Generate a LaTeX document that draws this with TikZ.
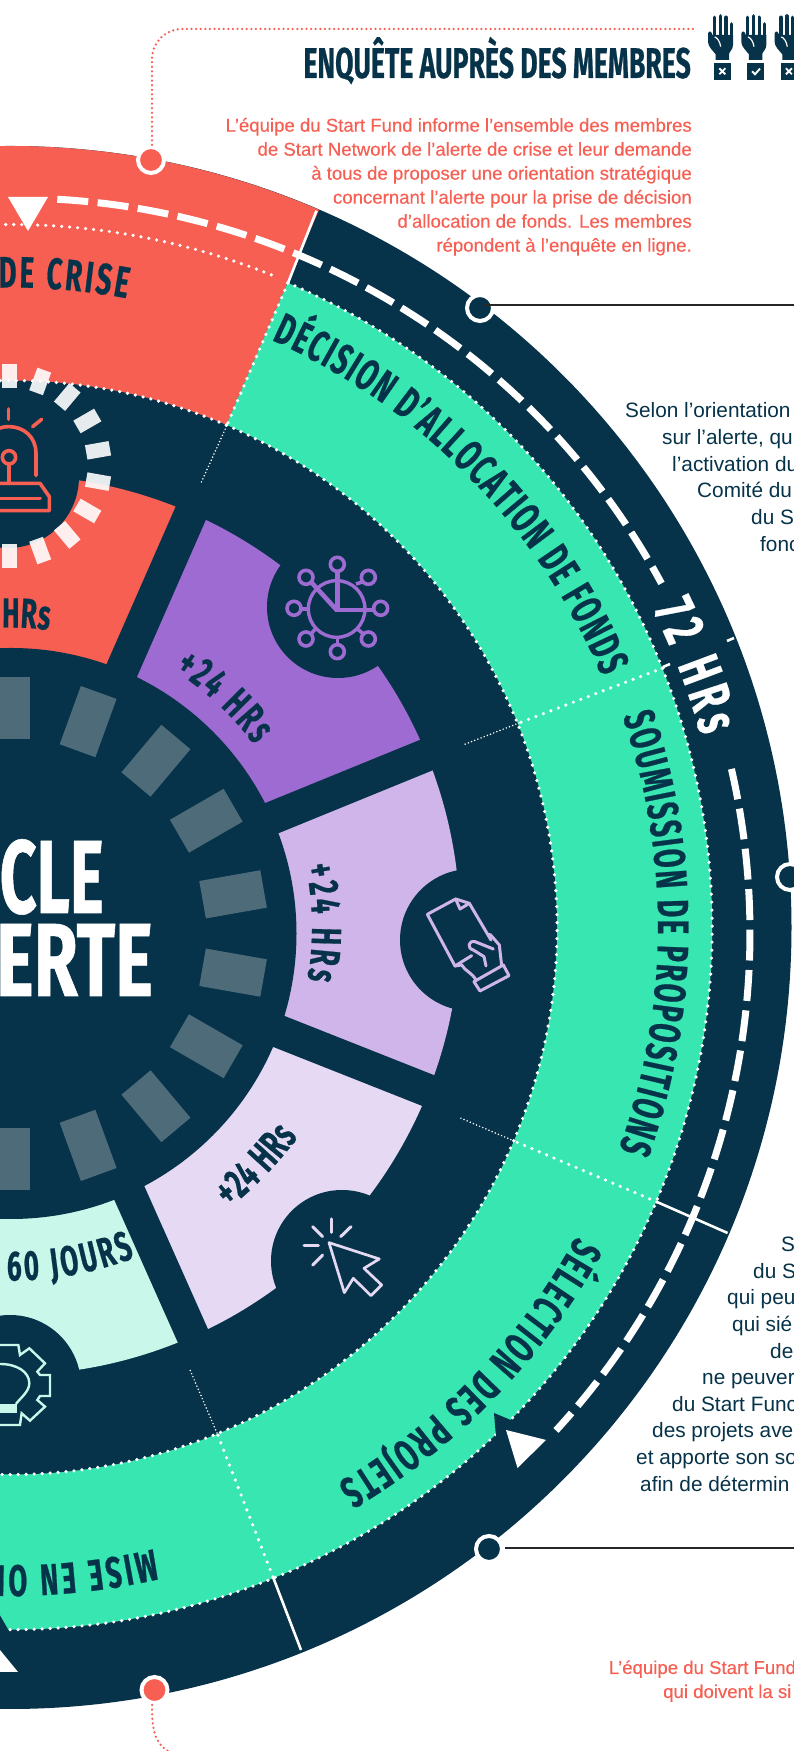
\documentclass[tikz,border=0pt]{standalone}
\usepackage{fontspec}
\usetikzlibrary{decorations.text}
\setmainfont{Liberation Sans}
\newfontfamily\hf[FakeStretch=0.62,FakeBold=0.5]{Fira Sans}
\newfontfamily\cf[FakeBold=0.25]{Liberation Sans}
\definecolor{navy}{HTML}{063349}
\definecolor{coral}{HTML}{F75F53}
\definecolor{green}{HTML}{37E6B0}
\definecolor{purple}{HTML}{9D6BD1}
\definecolor{lav}{HTML}{CFB5EA}
\definecolor{pale}{HTML}{E6D9F4}
\definecolor{mint}{HTML}{C9F7E9}
\definecolor{slate}{HTML}{4D6B79}
\newcommand\secfill[5]{\fill[#1] (#2:#5pt) arc[start angle=#2,end angle=#3,radius=#5pt] -- (#3:#4pt) arc[start angle=#3,end angle=#2,radius=#4pt] -- cycle;}
\newcommand\arctext[5]{\path[decorate,decoration={text along path,text={|#1|#5},text align={fit to path}}] (#3:#2pt) arc[start angle=#3,end angle=#4,radius=#2pt];}
\newcommand\hA{\hf\bfseries\fontsize{44}{44}\selectfont\color{navy}}
\newcommand\hB{\hf\bfseries\fontsize{42}{42}\selectfont\color{navy}}
\newcommand\hC{\hf\bfseries\fontsize{58}{58}\selectfont\color{white}}
\newcommand\handicon[3]{%
\begin{scope}[shift={(#1,5)},scale=0.3333]
\fill[navy] (55,90)--(117,90)--(117,120) .. controls (117,135) and (105,140) .. (105,148)--(105,165)--(65,165)--(65,148) .. controls (55,135) and (42,125) .. (42,110)--(42,85) .. controls (46,74) and (55,80) .. (56,95)--cycle;
\foreach \fx/\fy in {61/37,79/33,96/37,112/57}{\draw[navy,line width=3.6pt,line cap=round] (\fx,100)--(\fx,\fy);}
\draw[white,line width=1.2pt] (62,96) .. controls (70,98) and (78,110) .. (80,125);
\fill[navy] (60,175) rectangle (110,225);
#3
\end{scope}}
\begin{document}
\begin{tikzpicture}[
 dotw/.style={white,line width=3.6pt,line cap=round,dash pattern=on 0pt off 8pt},
 dots/.style={white,line width=1.7pt,line cap=round,dash pattern=on 0pt off 3.4pt},
 dotc/.style={coral,line width=2.5pt,line cap=round,dash pattern=on 0pt off 4.6pt},
 dashw/.style={white,line width=7pt,dash pattern=on 31pt off 9.5pt},
 ringn/.style={circle,draw=white,line width=4pt,minimum size=26pt,inner sep=0pt},
 body/.style={inner sep=0pt,text=navy,font=\fontsize{20.8}{20.8}\selectfont,anchor=base west},
 cbody/.style={inner sep=0pt,text=coral,font=\cf\fontsize{18.6}{18.6}\selectfont},
 ic/.style={line width=3pt,line cap=round,line join=round},
]
\path[use as bounding box] (0,0) rectangle (794pt,1751pt);
\clip (0,0) rectangle (794pt,1751pt);
\fill[white] (0,0) rectangle (794pt,1751pt);
% --- rings, centre (10,927.5)
\begin{scope}[shift={(10pt,823.5pt)}]
\fill[navy] (0,0) circle[radius=781.5pt];
\secfill{coral}{66.7}{130}{500}{781.5}
\secfill{green}{66.7}{-110}{500}{702}
\fill[navy] (0,0) circle[radius=547pt];
\end{scope}
% --- wedges, centre (10,925)
\begin{scope}[shift={(10pt,826pt)}]
\secfill{coral}{66.3}{130}{200}{450}
\secfill{purple}{66.3}{22.2}{200}{450}
\secfill{lav}{22.2}{-21.6}{200}{450}
\secfill{pale}{-21.6}{-66}{200}{450}
\secfill{mint}{-66}{-130}{200}{450}
\foreach \a in {66.3,22.2,-21.6,-66}{\draw[navy,line width=33pt] (\a:200pt)--(\a:470pt);}
\end{scope}
% --- hub, centre (11,933.5)
\begin{scope}[shift={(11pt,817.5pt)}]
\fill[navy] (0,0) circle[radius=285.5pt];
\foreach \a in {90,70,50,30,10,-10,-30,-50,-70,-90}{\fill[slate,rotate=\a] (194.5pt,-19pt) rectangle (256.5pt,19pt);}
\end{scope}
% --- pixel scope
\begin{scope}[x=1pt,y=-1pt,yshift=1751pt]
\fill[navy] (8,477) circle[radius=71pt];
\fill[navy] (338,607) circle[radius=71pt];
\fill[navy] (471,940) circle[radius=71pt];
\fill[navy] (342,1261) circle[radius=71pt];
\fill[navy] (10,1386) circle[radius=71pt];
\end{scope}
% --- dotted rings
\begin{scope}[shift={(10pt,823.5pt)}]
\draw[dotw] (66.7:547pt) arc[start angle=66.7,end angle=-110,radius=547pt];
\draw[dotw] (66.7:702pt) arc[start angle=66.7,end angle=-110,radius=702pt];
\draw[dotw] (91:703pt) arc[start angle=91,end angle=68,radius=703pt];
\draw[dotw] (66.7:547pt) arc[start angle=66.7,end angle=100,radius=547pt];
\end{scope}
\begin{scope}[x=1pt,y=-1pt,yshift=1751pt]
\coordinate (sp1a) at (288,283); \coordinate (sp1b) at (228,423); \coordinate (sp1c) at (201,483);
\coordinate (sp2a) at (663,668); \coordinate (sp2b) at (519,723); \coordinate (sp2c) at (463,745);
\coordinate (sp3a) at (657,1202); \coordinate (sp3b) at (514,1141); \coordinate (sp3c) at (458,1117);
\coordinate (sp4a) at (273,1577); \coordinate (sp4b) at (217,1433); \coordinate (sp4c) at (190,1370);
\foreach \n in {1,2,3,4}{
 \draw[dotw] (sp\n a)--(sp\n b);
 \draw[dots] (sp\n b)--(sp\n c);
}
\draw[white,line width=2.6pt] (288,283)--(316.5,210.7);
\draw[white,line width=2.6pt] (657,1202)--(727.6,1233);
\draw[white,line width=2.6pt] (273,1577)--(301,1650);
\draw[white,line width=2.6pt] (663,667)--(670,664);
\draw[white,line width=2.6pt] (727,641)--(734,638);
\end{scope}
% --- dashed road, centre (15,933)
\begin{scope}[shift={(15pt,818pt)}]
\draw[dashw] (86.7:735pt) arc[start angle=86.7,end angle=28.4,radius=735pt];
\draw[dashw] (12.9:735pt) arc[start angle=12.9,end angle=-42.6,radius=735pt];
\end{scope}
\begin{scope}[x=1pt,y=-1pt,yshift=1751pt]
\fill[navy] (494,1413)--(530,1428)--(505,1452)--(496,1437)--cycle;
\fill[navy] (-2,1612)--(9,1631)--(-2,1640)--cycle;
\fill[white] (8,197)--(48,197)--(28,231)--cycle;
\fill[white] (506,1430)--(546,1440)--(517.5,1468)--cycle;
\fill[white] (0,1650)--(18,1672)--(0,1672)--cycle;
% beacon squares
\begin{scope}[shift={(9.4,466)}]
\foreach \a in {90,70,50,30,10,-10,-30,-50,-70,-90}{\fill[white,opacity=.9,rotate=-\a] (78,-7.3) rectangle (102,7.3);}
\end{scope}
% beacon icon
\begin{scope}[shift={(0,360)},scale=0.3333]
\draw[coral,ic,line width=3.6pt] (108,347)--(108,280) .. controls (108,230) and (70,200) .. (27,200) .. controls (-20,200) and (-54,230) .. (-54,280);
\draw[coral,ic,line width=3.6pt] (27,292) circle[radius=20];
\draw[coral,ic,line width=3.6pt] (27,318)--(27,370);
\draw[coral,ic,line width=3.6pt] (-30,370)--(120,370)--(148,410)--(148,452)--(-30,452);
\draw[coral,ic,line width=3.6pt] (-30,415)--(120,415);
\draw[coral,ic,line width=3.6pt] (26,147)--(26,178);
\draw[coral,ic,line width=3.6pt] (98,200)--(125,178);
\end{scope}
% network clock
\begin{scope}[shift={(270,540)},scale=0.3333]
\draw[purple,line width=3.4pt] (200,207) circle[radius=85];
\foreach \nx/\ny in {202/73,72/205,108/112,295/112,332/205,295/297,202/335,108/297}{
 \draw[purple,line width=3.6pt] (\nx,\ny) circle[radius=21];
}
\draw[purple,line width=3.6pt] (202,95)--(202,120);
\draw[purple,line width=3.6pt] (95,207)--(115,207);
\draw[purple,line width=3.6pt] (258,132)--(280,125);
\draw[purple,line width=3.6pt] (125,280)--(140,262);
\draw[purple,line width=3.6pt] (260,265)--(278,280);
\draw[purple,line width=3.6pt] (202,292)--(202,313);
\draw[purple,line width=4.6pt,line join=miter] (202,95)--(202,210)--(310,210);
\draw[purple,line width=4.6pt] (125,128)--(200,210);
\end{scope}
% hand with paper
\begin{scope}[shift={(410,885)},scale=0.3333,lav,ic]
\draw (185,212)--(135,243)--(52,88)--(137,42)--(178,55)--(243,165);
\draw (137,42)--(150,72)--(178,55);
\draw (250,192)--(195,170) .. controls (175,165) and (170,190) .. (190,195)--(222,215)--(228,243);
\draw (240,148)--(268,180)--(275,242);
\draw (135,243)--(155,240) .. controls (165,258) and (185,262) .. (198,285);
\draw (192,290)--(280,240)--(297,272)--(210,318)--cycle;
\end{scope}
% cursor
\begin{scope}[shift={(290,1205)},scale=0.3333,pale,ic]
\draw[line width=2.7pt] (117,113)--(268,162)--(222,190)--(275,240)--(243,272)--(190,220)--(163,263)--cycle;
\draw (125,42)--(125,82);
\draw (68,65)--(98,95);
\draw (183,65)--(152,95);
\draw (42,122)--(85,122);
\draw (68,180)--(98,150);
\end{scope}
% gear and bulb
\begin{scope}[shift={(0,1300)},scale=0.3333,mint,line width=2.4pt]
\draw (-30,135)--(55,135)--(60,165)--(88,145)--(135,190)--(112,215)--(120,225)--(150,225)--(150,288)--(120,288)--(112,300)--(135,320)--(90,362)--(65,340)--(60,375)--(-30,375);
\draw (-20,194)--(0,192) .. controls (50,192) and (88,215) .. (88,250) .. controls (88,275) and (60,295) .. (48,312);
\fill (-5,312) rectangle (50,340);
\end{scope}
% call-out nodes and connectors
\node[ringn,fill=coral] (c1) at (151,160) {};
\node[ringn,fill=navy] (c2) at (480,308) {};
\node[ringn,fill=navy] (c3) at (790,877) {};
\node[ringn,fill=navy] (c4) at (489,1549) {};
\node[ringn,fill=coral] (c5) at (154.5,1690) {};
\coordinate (t1) at (694,29);
\coordinate (t5) at (168,1751);
\coordinate (l2a) at (484,305); \coordinate (l2b) at (794,305);
\coordinate (l4a) at (505,1548); \coordinate (l4b) at (794,1548);
\draw[dotc,rounded corners=30pt] (c1.north -| 152,0)--(152,29)--(t1);
\draw[dotc] (152,1705) .. controls (152,1725) and (153,1742) .. (t5);
\draw[black!85,line width=1.4pt] (l2a)--(l2b);
\draw[black!85,line width=1.4pt] (l4a)--(l4b);
% hands
\handicon{694}{1}{\draw[white,line width=1.9pt] (76,190)--(94,208) (94,190)--(76,208);}
\handicon{727.3}{2}{\draw[white,line width=1.9pt] (74,199)--(83,208)--(98,191);}
\handicon{760.6}{3}{\draw[white,line width=1.9pt] (76,190)--(94,208) (94,190)--(76,208);}
% texts
\node[anchor=base east,inner sep=0pt,text=navy] (title) at (691,78) {\hf\bfseries\fontsize{43}{43}\selectfont ENQUÊTE AUPRÈS DES MEMBRES};
\node[cbody,anchor=base east] (p1) at (692,131.7) {L’équipe du Start Fund informe l’ensemble des membres};
\node[cbody,anchor=base east] (p2) at (692,155.7) {de Start Network de l’alerte de crise et leur demande};
\node[cbody,anchor=base east] (p3) at (692,179.7) {à tous de proposer une orientation stratégique};
\node[cbody,anchor=base east] (p4) at (692,203.7) {concernant l’alerte pour la prise de décision};
\node[cbody,anchor=base east] (p5) at (692,227.7) {d’allocation de fonds. Les membres};
\node[cbody,anchor=base east] (p6) at (692,251.7) {répondent à l’enquête en ligne.};
\node[body] (q1) at (625,418) {Selon l’orientation};
\node[body] (q2) at (662,445) {sur l’alerte, qui};
\node[body] (q3) at (672,471.5) {l’activation du};
\node[body] (q4) at (697,498) {Comité du};
\node[body] (q5) at (751,525) {du St};
\node[body] (q6) at (760,551.5) {fonc};
\node[body] (r1) at (781,1252) {S};
\node[body] (r2) at (753,1278.5) {du S};
\node[body] (r3) at (727,1305) {qui peu};
\node[body] (r4) at (732,1332) {qui sié};
\node[body] (r5) at (770,1358.5) {de};
\node[body] (r6) at (702,1385) {ne peuver};
\node[body] (r7) at (672,1411.5) {du Start Func};
\node[body] (r8) at (652,1438) {des projets ave};
\node[body] (r9) at (636,1465) {et apporte son so};
\node[body] (r10) at (640,1491.5) {afin de détermin};
\node[cbody,anchor=base west] (s1) at (608.6,1674) {L’équipe du Start Fund};
\node[cbody,anchor=base west] (s2) at (663,1698) {qui doivent la si};
\node[anchor=base east,inner sep=0pt,text=white] (m1) at (104,913) {\hf\bfseries\fontsize{104}{104}\selectfont CLE};
\node[anchor=base east,inner sep=0pt,text=white] (m2) at (153,996) {\scalebox{1.11}[1]{\hf\bfseries\fontsize{104}{104}\selectfont ERTE}};
\end{scope}
% curved headings
\begin{scope}[shift={(10pt,823.5pt)}]
\arctext{\hA}{640}{91}{79.5}{DE CRISE}
\arctext{\hA}{643}{66}{23}{DÉCISION D’ALLOCATION DE FONDS}
\arctext{\hA}{648}{19}{-20}{SOUMISSION DE PROPOSITIONS}
\arctext{\hA}{645}{-28.6}{-59.5}{SÉLECTION DES PROJETS}
\arctext{\hA}{638}{-77}{-91.7}{MISE EN OE}
\arctext{\hC}{717}{26.3}{15.5}{72 HRs}
\arctext{\hB}{305}{57.4}{36.8}{+24 HRs}
\arctext{\hB}{302}{11.8}{-10}{+24 HRs}
\arctext{\hB}{356}{-52}{-36}{+24 HRs}
\arctext{\hB}{353}{-94.9}{-69.3}{À 60 JOURS}
\arctext{\hB}{300}{91.5}{82.5}{HRs}
\end{scope}
\end{tikzpicture}
\end{document}
